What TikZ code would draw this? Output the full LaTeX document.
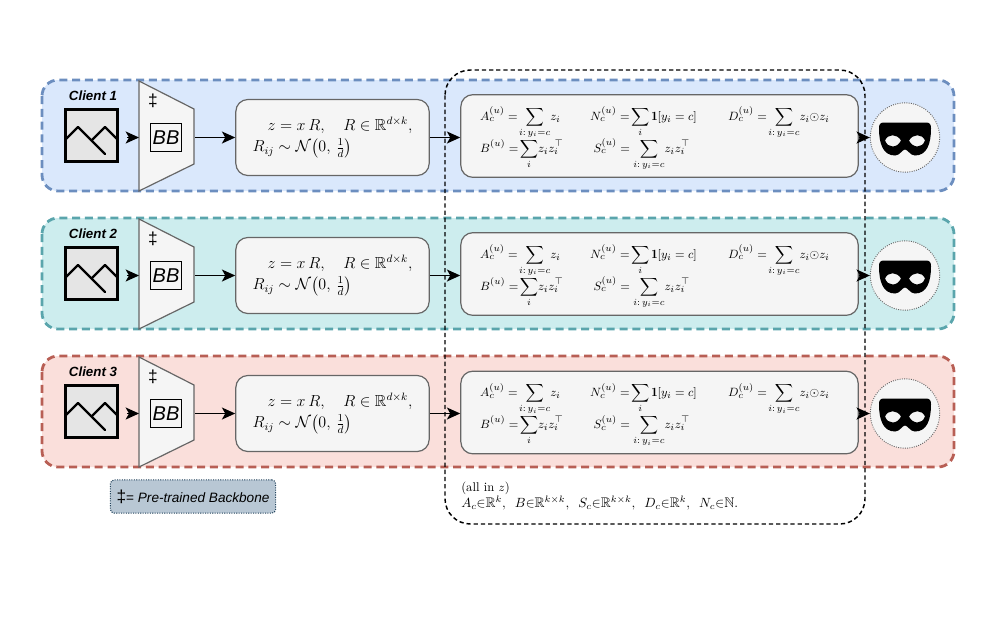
\documentclass[tikz,border=0pt]{standalone}
\usepackage{amsmath,amssymb}
\usepackage{fontspec}
\newfontfamily\diagsans{Liberation Sans}
\usetikzlibrary{arrows.meta}
\definecolor{blueband}{HTML}{DAE8FC}
\definecolor{blueedge}{HTML}{6C8EBF}
\definecolor{tealband}{HTML}{CDEDEE}
\definecolor{tealedge}{HTML}{5AA5AC}
\definecolor{redband}{HTML}{FADFDB}
\definecolor{rededge}{HTML}{B85F55}
\definecolor{softgray}{HTML}{F5F5F5}
\definecolor{edgegray}{HTML}{666666}
\definecolor{legendfill}{HTML}{B8C7D4}
\definecolor{legendedge}{HTML}{23445D}
\tikzset{
    band/.style={rounded corners=12pt, line width=2.1pt, dash pattern=on 6pt off 3.6pt},
    clientlabel/.style={font=\diagsans\bfseries\itshape\fontsize{10}{12}\selectfont},
    imagebox/.style={draw=black, fill=black!10, line width=2.2pt, minimum width=39pt, minimum height=39pt},
    backbone/.style={draw=edgegray, fill=softgray, line width=0.9pt},
    bbbox/.style={draw=black, fill=softgray, line width=0.7pt, minimum width=23pt, minimum height=21pt, inner sep=0pt, font=\diagsans\itshape\fontsize{15}{15}\selectfont},
    dagmark/.style={font=\diagsans\fontsize{13}{13}\selectfont},
    mathbox/.style={draw=edgegray, fill=softgray, line width=0.9pt, rounded corners=9pt, inner sep=0pt},
    projbox/.style={mathbox, minimum width=145pt, minimum height=57pt, align=left, font=\fontsize{12}{16}\selectfont},
    statsbox/.style={mathbox, minimum width=298pt, minimum height=62pt, text width=269pt, align=left, font=\fontsize{9.5}{13}\selectfont},
    maskcircle/.style={circle, draw=black!60, densely dotted, fill=softgray, line width=0.7pt, minimum size=52pt, inner sep=0pt},
    flow/.style={-{Stealth[length=10pt,width=9pt,inset=2.5pt]}, black, line width=1.1pt},
    photoicon/.pic={
        \draw[black, line width=1.8pt, line join=round, line cap=round] (-26.5,4.5) -- (-13.5,-8.5) -- (13.5,18.5);
        \draw[black, line width=1.8pt, line join=round, line cap=round] (0.5,4.5) -- (13.5,-8.5) -- (26.5,4.5);
    },
    maskicon/.pic={
        \fill[black, even odd rule] (-21,-15) -- (21,-15) .. controls (25,-15) and (26,-13) .. (26,-9)
            .. controls (26,6) and (22,18) .. (10,18) .. controls (5,18) and (3,12) .. (0,12)
            .. controls (-3,12) and (-5,18) .. (-10,18) .. controls (-22,18) and (-26,6) .. (-26,-9)
            .. controls (-26,-13) and (-25,-15) .. (-21,-15) -- cycle
            (-20,3) .. controls (-17,-4) and (-8,-4) .. (-4,3) .. controls (-8,11) and (-17,11) .. (-20,3) -- cycle
            (20,3) .. controls (17,-4) and (8,-4) .. (4,3) .. controls (8,11) and (17,11) .. (20,3) -- cycle;
    },
}
\newcommand{\projtext}{%
    \hspace*{11.25pt}$z = x\,R,\quad R\in\mathbb{R}^{d\times k},$\\[0pt]
    $R_{ij}\sim\mathcal{N}\bigl(0,\,\tfrac{1}{d}\bigr)$}
\newcommand{\statstext}{%
    \smash{\makebox[82.5pt][l]{$\displaystyle A_c^{(u)}=\!\sum_{i{:}\,y_i=c}\! z_i$}%
    \makebox[103.5pt][l]{$\displaystyle N_c^{(u)}=\!\sum_{i}\mathbf{1}[y_i=c]$}%
    $\displaystyle D_c^{(u)}=\!\sum_{i{:}\,y_i=c}\! z_i{\odot}z_i$}\\[11pt]
    \smash{\makebox[85pt][l]{$\displaystyle B^{(u)}=\!\sum_{i}\! z_i z_i^{\top}$}%
    $\displaystyle S_c^{(u)}=\sum_{i{:}\,y_i=c}\! z_i z_i^{\top}$}}
\begin{document}
\begin{tikzpicture}[x=0.75pt, y=-0.75pt]
    \useasboundingbox (0,0) rectangle (996,633);

    % Client 1
    \begin{scope}
        \draw[band, fill=blueband, draw=blueedge] (42,80) rectangle (954,191);
        \node[clientlabel] (name1) at (93,96) {Client 1};
        \node[imagebox] (img1) at (91.5,135.5) {};
        \pic at (img1.center) {photoicon};
        \draw[backbone] (139,81) -- (194,109) -- (194,164) -- (139,191) -- cycle;
        \coordinate (bbin1) at (139,137.5);
        \coordinate (bbout1) at (195,137.5);
        \node[dagmark] (dag1) at (153,101) {‡};
        \node[bbbox] (bb1) at (166,137.5) {BB};
        \node[projbox] (proj1) at (332.5,137.5) {\projtext};
        \node[statsbox] (stats1) at (659.5,136) {\statstext};
        \node[maskcircle] (mask1) at (905,137.5) {};
        \pic at (mask1.center) {maskicon};
        \draw[flow, shorten <=6pt] (img1.east |- bbin1) -- (bbin1);
        \draw[flow] (bbout1) -- (proj1.west);
        \draw[flow] (proj1.east) -- (stats1.west |- proj1.east);
        \draw[flow] (stats1.east |- mask1.west) -- (mask1.west);
    \end{scope}

    % Client 2
    \begin{scope}[yshift=-103.5pt]
        \draw[band, fill=tealband, draw=tealedge] (42,80) rectangle (954,191);
        \node[clientlabel] (name2) at (93,96) {Client 2};
        \node[imagebox] (img2) at (91.5,135.5) {};
        \pic at (img2.center) {photoicon};
        \draw[backbone] (139,81) -- (194,109) -- (194,164) -- (139,191) -- cycle;
        \coordinate (bbin2) at (139,137.5);
        \coordinate (bbout2) at (195,137.5);
        \node[dagmark] (dag2) at (153,101) {‡};
        \node[bbbox] (bb2) at (166,137.5) {BB};
        \node[projbox] (proj2) at (332.5,137.5) {\projtext};
        \node[statsbox] (stats2) at (659.5,136) {\statstext};
        \node[maskcircle] (mask2) at (905,137.5) {};
        \pic at (mask2.center) {maskicon};
        \draw[flow, shorten <=6pt] (img2.east |- bbin2) -- (bbin2);
        \draw[flow] (bbout2) -- (proj2.west);
        \draw[flow] (proj2.east) -- (stats2.west |- proj2.east);
        \draw[flow] (stats2.east |- mask2.west) -- (mask2.west);
    \end{scope}

    % Client 3
    \begin{scope}[yshift=-207pt]
        \draw[band, fill=redband, draw=rededge] (42,80) rectangle (954,191);
        \node[clientlabel] (name3) at (93,96) {Client 3};
        \node[imagebox] (img3) at (91.5,135.5) {};
        \pic at (img3.center) {photoicon};
        \draw[backbone] (139,81) -- (194,109) -- (194,164) -- (139,191) -- cycle;
        \coordinate (bbin3) at (139,137.5);
        \coordinate (bbout3) at (195,137.5);
        \node[dagmark] (dag3) at (153,101) {‡};
        \node[bbbox] (bb3) at (166,137.5) {BB};
        \node[projbox] (proj3) at (332.5,137.5) {\projtext};
        \node[statsbox] (stats3) at (659.5,136.5) {\statstext};
        \node[maskcircle] (mask3) at (905,137.5) {};
        \pic at (mask3.center) {maskicon};
        \draw[flow, shorten <=6pt] (img3.east |- bbin3) -- (bbin3);
        \draw[flow] (bbout3) -- (proj3.west);
        \draw[flow] (proj3.east) -- (stats3.west |- proj3.east);
        \draw[flow] (stats3.east |- mask3.west) -- (mask3.west);
    \end{scope}

    % shared statistics frame and legend
    \draw[black, line width=1.1pt, dash pattern=on 3.2pt off 2.2pt, rounded corners=19pt] (445,70) rectangle (865,524);
    \node[align=left, anchor=north west, inner sep=0pt, font=\fontsize{9.5}{12}\selectfont] (spaces) at (461,482)
        {(all in $z$)\\
         \fontsize{10.45}{12}\selectfont $A_c{\in}\mathbb{R}^{k},\ \,B{\in}\mathbb{R}^{k\times k},\ \,S_c{\in}\mathbb{R}^{k\times k},\ \,D_c{\in}\mathbb{R}^{k},\ \,N_c{\in}\mathbb{N}.$};
    \node[draw=legendedge, fill=legendfill, densely dotted, line width=0.8pt, rounded corners=3pt, minimum width=124pt, minimum height=25pt, inner sep=0pt, font=\diagsans\fontsize{10.2}{12}\selectfont] (legend) at (193,496.5)
        {{\fontsize{13}{13}\selectfont ‡}= \itshape Pre-trained Backbone};
\end{tikzpicture}
\end{document}
